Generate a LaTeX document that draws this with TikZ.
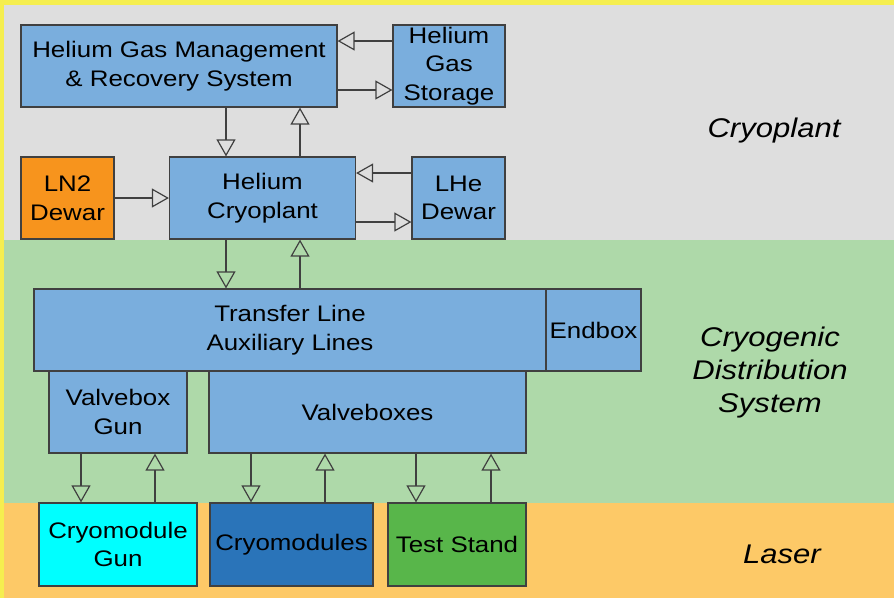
\documentclass[tikz,border=0pt]{standalone}
\usepackage{fontspec}
\setmainfont[FakeStretch=1.15]{Liberation Sans}
\usetikzlibrary{arrows.meta}

\definecolor{frameyellow}{HTML}{F5EE4F}
\definecolor{plantgrey}{HTML}{DEDEDE}
\definecolor{distgreen}{HTML}{AED9A9}
\definecolor{laserorange}{HTML}{FDC967}
\definecolor{boxblue}{HTML}{7AAEDD}
\definecolor{ln2orange}{HTML}{F7941D}
\definecolor{gunblue}{HTML}{00FFFF}
\definecolor{cmblue}{HTML}{2A74B9}
\definecolor{standgreen}{HTML}{58B64A}
\definecolor{edge}{HTML}{404040}

\begin{document}
\begin{tikzpicture}[x=1pt, y=-1pt,
  unit/.style={draw=edge, line width=1.2pt, fill=boxblue, inner sep=0pt,
    align=center, text=black, font=\fontsize{22.5}{28.5}\selectfont},
  zone/.style={align=center, text=black, font=\itshape\fontsize{27}{33}\selectfont},
  flow/.style={draw=edge, line width=1.2pt,
    -{Triangle[open, length=17pt, width=19pt]}}]

\useasboundingbox (0,0) rectangle (894,598);

% section bands
\fill[frameyellow] (0,0) rectangle (894,598);
\fill[plantgrey] (4,5) rectangle (894,240);
\fill[distgreen] (4,240) rectangle (894,503);
\fill[laserorange] (4,503) rectangle (894,598);

% section titles
\node[zone] (lblplant) at (774,131) {Cryoplant};
\node[zone] (lbldist) at (770,373) {Cryogenic\\Distribution\\System};
\node[zone] (lbllaser) at (782,554) {Laser};

% cryoplant units
\node[unit, minimum width=316pt, minimum height=82pt] (hgm) at (179,66)
  {Helium Gas Management\\\& Recovery System};
\node[unit, minimum width=112pt, minimum height=82pt] (stor) at (449,66)
  {Helium\\Gas\\Storage};
\node[unit, fill=ln2orange, minimum width=93pt, minimum height=82pt] (ln2) at (67.5,198)
  {LN2\\Dewar};
\node[unit, minimum width=186pt, minimum height=82pt] (cp) at (262.5,198)
  {Helium\\Cryoplant};
\node[unit, minimum width=93pt, minimum height=82pt] (lhe) at (458.5,198)
  {LHe\\Dewar};

% distribution units
\node[unit, minimum width=512pt, minimum height=82pt] (tl) at (290,330)
  {Transfer Line\\Auxiliary Lines};
\node[unit, minimum width=95pt, minimum height=82pt] (endb) at (593.5,330)
  {Endbox};
\node[unit, minimum width=138pt, minimum height=82pt] (vbg) at (118,412)
  {Valvebox\\Gun};
\node[unit, minimum width=317pt, minimum height=82pt] (vbs) at (367.5,412)
  {Valveboxes};

% laser units
\node[unit, fill=gunblue, minimum width=158pt, minimum height=83pt] (cmg) at (118,544.5)
  {Cryomodule\\Gun};
\node[unit, fill=cmblue, minimum width=163pt, minimum height=83pt] (cms) at (291.5,544.5)
  {Cryomodules};
\node[unit, fill=standgreen, minimum width=138pt, minimum height=83pt] (ts) at (457,544.5)
  {Test Stand};

% connector tracks
\coordinate (yA) at (0,41);
\coordinate (yB) at (0,90);
\coordinate (yC) at (0,173);
\coordinate (yD) at (0,222);
\coordinate (xA) at (226,0);
\coordinate (xB) at (300,0);
\coordinate (xC) at (81,0);
\coordinate (xD) at (155,0);
\coordinate (xE) at (251,0);
\coordinate (xF) at (325,0);
\coordinate (xG) at (416,0);
\coordinate (xH) at (491,0);

% helium gas loop
\draw[flow] (stor.west |- yA) -- (hgm.east |- yA);
\draw[flow] (hgm.east |- yB) -- (stor.west |- yB);
\draw[flow] (hgm.south -| xA) -- (cp.north -| xA);
\draw[flow] (cp.north -| xB) -- (hgm.south -| xB);

% dewars
\draw[flow] (ln2.east) -- (cp.west);
\draw[flow] (lhe.west |- yC) -- (cp.east |- yC);
\draw[flow] (cp.east |- yD) -- (lhe.west |- yD);

% cryoplant to distribution
\draw[flow] (cp.south -| xA) -- (tl.north -| xA);
\draw[flow] (tl.north -| xB) -- (cp.south -| xB);

% valveboxes to cryomodules
\draw[flow] (vbg.south -| xC) -- (cmg.north -| xC);
\draw[flow] (cmg.north -| xD) -- (vbg.south -| xD);
\draw[flow] (vbs.south -| xE) -- (cms.north -| xE);
\draw[flow] (cms.north -| xF) -- (vbs.south -| xF);
\draw[flow] (vbs.south -| xG) -- (ts.north -| xG);
\draw[flow] (ts.north -| xH) -- (vbs.south -| xH);

\end{tikzpicture}
\end{document}
